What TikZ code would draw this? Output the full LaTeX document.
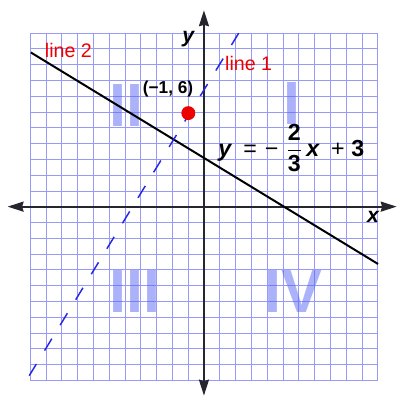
\documentclass[tikz,border=0pt]{standalone}
\usepackage{fontspec}
\setmainfont{Liberation Sans}
\usetikzlibrary{arrows.meta}
\definecolor{GridBlue}{rgb}{0.6, 0.6, 0.97}
\definecolor{LineRed}{rgb}{0.93, 0.0, 0.0}
\definecolor{DashBlue}{rgb}{0.15, 0.15, 0.9}
\definecolor{NumeralBlue}{rgb}{0.35, 0.4, 0.96}
\definecolor{AxisGray}{rgb}{0.15, 0.15, 0.18}

\begin{document}
\begin{tikzpicture}[x=11.91pt, y=11.91pt,
    numeral/.style={text=NumeralBlue, text opacity=0.5, inner sep=0pt,
                    font=\fontsize{46}{46}\selectfont\bfseries},
    linelabel/.style={text=LineRed, inner sep=0pt, font=\fontsize{14.8}{15}\selectfont},
    axislabel/.style={inner sep=0pt, font=\fontsize{16}{16}\selectfont\bfseries\itshape},
    axisline/.style={AxisGray, line width=1.5pt,
                     {Stealth[length=12pt, width=7.5pt, inset=1pt]}-{Stealth[length=12pt, width=7.5pt, inset=1pt]}}]

\useasboundingbox (-12.91,-12.17) rectangle (12.41,13.08);

% ================= CUADRICULA =================
\draw[GridBlue, line width=0.5pt, step={(1,1)}] (-11,-11) grid (11,11);

% numeros romanos de los cuadrantes
\node[numeral] (quadI)   at (5.57,6.53)   {I};
\node[numeral] (quadII)  at (-4.91,6.40)  {II};
\node[numeral] (quadIII) at (-4.36,-5.40) {III};
\node[numeral] (quadIV)  at (5.65,-5.40)  {IV};

% ================= EJES =================
\coordinate (xleft)   at (-12.43,0);
\coordinate (xright)  at (12.2,0);
\coordinate (ybottom) at (0,-11.96);
\coordinate (ytop)    at (0,12.43);
\draw[axisline] (xleft) -- (xright);
\draw[axisline] (ybottom) -- (ytop);
\node[axislabel] (xlabel) at (10.7,-0.65) {x};
\node[axislabel] (ylabel) at (-1.0,10.6)  {y};

% ================= RECTAS =================
% line 2: recta continua
\coordinate (lineTwoStart) at (-10.96,9.76);
\coordinate (lineTwoEnd)   at (11.02,-3.63);
\draw[black, line width=1.5pt] (lineTwoStart) -- (lineTwoEnd);

% line 1: recta discontinua
\coordinate (lineOneTop)    at (2.2,10.98);
\coordinate (lineOneBottom) at (-11.06,-10.7);
\draw[DashBlue, line width=1.1pt, dash pattern=on 10.5pt off 12pt] (lineOneTop) -- (lineOneBottom);

\node[linelabel] (lineTwoLabel) at (-8.58,9.87) {line 2};
\node[linelabel] (lineOneLabel) at (2.83,9.06)  {line 1};

% punto y ecuacion
\node[circle, fill=LineRed, minimum size=10.5pt, inner sep=0pt] (point) at (-0.99,5.92) {};
\node[inner sep=0pt, font=\fontsize{13}{13}\selectfont\bfseries] (pointLabel) at (-2.27,7.47) {(−1, 6)};
\node[inner sep=0pt, anchor=base west, font=\fontsize{17.5}{17.5}\selectfont] (equation) at (0.9,3.19)
    {{\bfseries\itshape y}\hspace{9pt}=\hspace{6pt}−\hspace{6pt}$\displaystyle\frac{\hbox{\bfseries 2}}{\hbox{\bfseries 3}}$\hspace{3pt}{\bfseries\itshape x}\hspace{9pt}+\hspace{5pt}{\bfseries 3}};

\end{tikzpicture}
\end{document}
